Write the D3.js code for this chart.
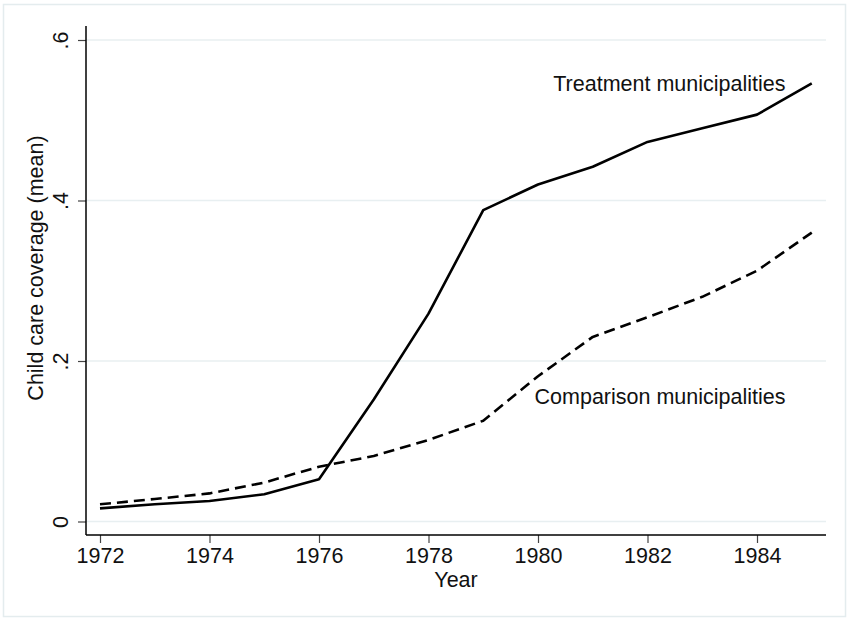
<!DOCTYPE html>
<html>
<head>
<meta charset="utf-8">
<script src="https://cdn.jsdelivr.net/npm/d3@7"></script>
<style>
  html, body { margin: 0; padding: 0; background: #fff; }
  svg { display: block; font-family: "Liberation Sans", Arial, sans-serif; }
</style>
</head>
<body>
<svg id="chart" width="847" height="618"></svg>
<script>
const years = [1972, 1973, 1974, 1975, 1976, 1977, 1978, 1979, 1980, 1981, 1982, 1983, 1984, 1985];
const treatment = [0.0164, 0.0215, 0.0255, 0.034, 0.0526, 0.152, 0.259, 0.388, 0.420, 0.442, 0.473, 0.490, 0.507, 0.546];
const comparison = [0.0214, 0.028, 0.035, 0.0485, 0.0683, 0.0816, 0.1016, 0.1256, 0.181, 0.230, 0.2545, 0.280, 0.3125, 0.360];
const xTicks = [1972, 1974, 1976, 1978, 1980, 1982, 1984];
const yTicks = [0, 0.2, 0.4, 0.6];
const yTickLabels = ["0", ".2", ".4", ".6"];
const seriesLabels = ["Treatment municipalities", "Comparison municipalities"];
const labelValues = [0.536, 0.147];
const xTitle = "Year";
const yTitle = "Child care coverage (mean)";

const svg = d3.select("#chart");
const plot = { left: 86, right: 826, top: 26, bottom: 535 };
const FS = 21.5;

// outer border
svg.append("rect").attr("x", 3.5).attr("y", 4.5).attr("width", 842).attr("height", 612)
  .attr("fill", "#fff").attr("stroke", "#e4ecee").attr("stroke-width", 1.5);

const x = d3.scaleLinear().domain([1972, 1985]).range([100, 811.75]);
const y = d3.scaleLinear().domain([0, 0.6]).range([521.5, 40]);

// gridlines
svg.append("g").selectAll("line").data(yTicks).join("line")
  .attr("x1", plot.left).attr("x2", plot.right)
  .attr("y1", d => y(d)).attr("y2", d => y(d))
  .attr("stroke", "#e8eff1").attr("stroke-width", 1.5);

// y axis
const yAxis = d3.axisLeft(y).tickValues(yTicks).tickSize(8).tickPadding(10)
  .tickFormat((d, i) => yTickLabels[i]);
const gy = svg.append("g").attr("transform", `translate(${plot.left},0)`).call(yAxis);
gy.select(".domain").remove();
gy.selectAll(".tick line").attr("stroke", "#444").attr("stroke-width", 1.2);
gy.selectAll(".tick text")
  .attr("font-size", FS).attr("fill", "#111")
  .attr("x", 0).attr("dy", null)
  .attr("text-anchor", "middle")
  .attr("transform", "translate(-18,0) rotate(-90)");
svg.append("line").attr("x1", plot.left).attr("x2", plot.left)
  .attr("y1", plot.top).attr("y2", plot.bottom)
  .attr("stroke", "#000").attr("stroke-width", 1.5);

// x axis
const xAxis = d3.axisBottom(x).tickValues(xTicks).tickSize(8).tickPadding(5)
  .tickFormat(d3.format("d"));
const gx = svg.append("g").attr("transform", `translate(0,${plot.bottom})`).call(xAxis);
gx.select(".domain").remove();
gx.selectAll(".tick line").attr("stroke", "#444").attr("stroke-width", 1.2);
gx.selectAll(".tick text").attr("font-size", FS).attr("fill", "#111")
  .attr("y", 28).attr("dy", null);
svg.append("line").attr("x1", plot.left).attr("x2", plot.right)
  .attr("y1", plot.bottom).attr("y2", plot.bottom)
  .attr("stroke", "#000").attr("stroke-width", 1.5);

// lines
const line = d3.line().x((d, i) => x(years[i])).y(d => y(d));
svg.append("path").datum(treatment).attr("d", line)
  .attr("fill", "none").attr("stroke", "#000").attr("stroke-width", 2.6)
  .attr("stroke-linejoin", "round");
svg.append("path").datum(comparison).attr("d", line)
  .attr("fill", "none").attr("stroke", "#000").attr("stroke-width", 2.6)
  .attr("stroke-dasharray", "11,6").attr("stroke-linejoin", "round");

// series labels
svg.append("g").selectAll("text").data(seriesLabels).join("text")
  .attr("x", 785.5).attr("y", (d, i) => y(labelValues[i]))
  .attr("text-anchor", "end").attr("font-size", FS).attr("fill", "#111")
  .text(d => d);

// axis titles
svg.append("text").attr("x", (plot.left + plot.right) / 2).attr("y", 586.5)
  .attr("text-anchor", "middle").attr("font-size", FS).attr("fill", "#111")
  .text(xTitle);
svg.append("text").attr("transform", `translate(43,268) rotate(-90)`)
  .attr("text-anchor", "middle").attr("font-size", FS).attr("fill", "#111")
  .text(yTitle);
</script>
</body>
</html>
